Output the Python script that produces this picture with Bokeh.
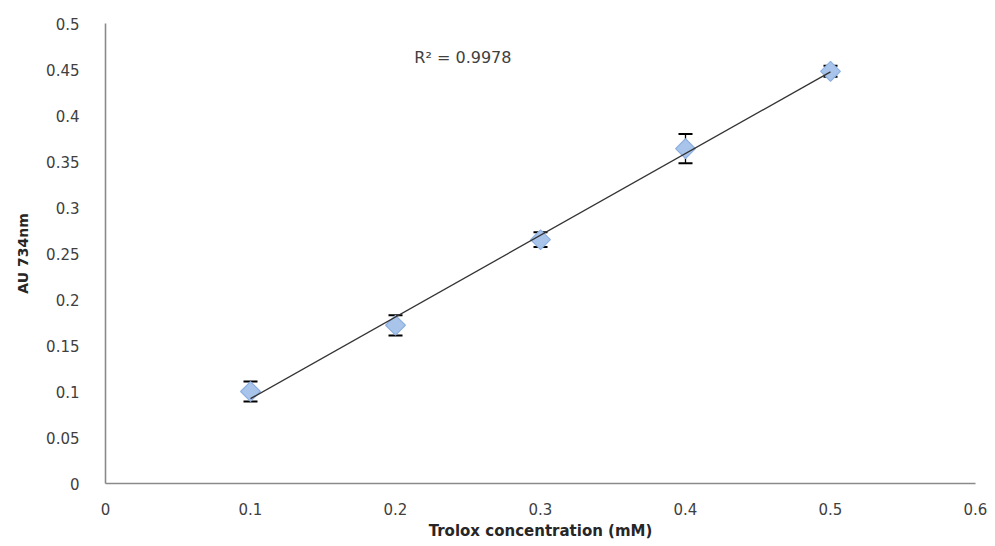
from bokeh.plotting import figure
from bokeh.models import ColumnDataSource, Whisker, FixedTicker, Label, Range1d, TeeHead
from bokeh.embed import file_html
from bokeh.resources import INLINE
import numpy as np

# Data
conc = [0.1, 0.2, 0.3, 0.4, 0.5]
absorb = [0.100, 0.172, 0.265, 0.364, 0.448]
err = [0.011, 0.011, 0.008, 0.016, 0.006]
x_ticks = [0, 0.1, 0.2, 0.3, 0.4, 0.5, 0.6]
x_tick_labels = ["0", "0.1", "0.2", "0.3", "0.4", "0.5", "0.6"]
y_ticks = [0, 0.05, 0.1, 0.15, 0.2, 0.25, 0.3, 0.35, 0.4, 0.45, 0.5]
y_tick_labels = ["0", "0.05", "0.1", "0.15", "0.2", "0.25", "0.3", "0.35", "0.4", "0.45", "0.5"]
r2_text = "R\u00b2 = 0.9978"
x_title = "Trolox concentration (mM)"
y_title = "AU 734nm"

FONT = "DejaVu Sans"
TXT = "#404040"

p = figure(width=990, height=542, output_backend="svg", toolbar_location=None,
           x_range=Range1d(0, 0.6), y_range=Range1d(0, 0.5),
           min_border_left=105, min_border_right=15, min_border_top=23, min_border_bottom=56)
p.outline_line_color = None
p.xgrid.grid_line_color = None
p.ygrid.grid_line_color = None

src = ColumnDataSource(dict(x=conc, y=absorb,
                            lo=[a - e for a, e in zip(absorb, err)],
                            hi=[a + e for a, e in zip(absorb, err)]))

w = Whisker(base="x", upper="hi", lower="lo", source=src, line_color="black", line_width=1.3,
            upper_head=TeeHead(size=14, line_color="black", line_width=2),
            lower_head=TeeHead(size=14, line_color="black", line_width=2))
p.add_layout(w)

p.scatter("x", "y", source=src, marker="square", angle=np.pi / 4, size=14,
          fill_color="#A9C4EB", line_color="#8DB0E0", line_width=1.2)

# linear trendline from the data
slope, intercept = np.polyfit(conc, absorb, 1)
xs = [min(conc), max(conc)]
p.line(xs, [slope * v + intercept for v in xs], line_color="#333333", line_width=1.3)

p.add_layout(Label(x=0.213, y=0.463, text=r2_text, text_font=FONT, text_font_size="16px",
                   text_color=TXT, text_baseline="middle"))

for ax, ticks, labels in ((p.xaxis[0], x_ticks, x_tick_labels), (p.yaxis[0], y_ticks, y_tick_labels)):
    ax.ticker = FixedTicker(ticks=ticks)
    ax.major_label_overrides = {t: l for t, l in zip(ticks, labels)}
    ax.major_tick_line_color = None
    ax.minor_tick_line_color = None
    ax.axis_line_color = "#8A8A8A"
    ax.axis_line_width = 1.6
    ax.major_label_text_font = FONT
    ax.major_label_text_font_size = "15px"
    ax.major_label_text_color = TXT
    ax.axis_label_text_font = FONT
    ax.axis_label_text_font_style = "bold"
    ax.axis_label_text_color = "#262626"

p.xaxis.axis_label = x_title
p.xaxis.axis_label_text_font_size = "15px"
p.xaxis.major_label_standoff = 13
p.xaxis.axis_label_standoff = 4
p.yaxis.axis_label = y_title
p.yaxis.axis_label_text_font_size = "14px"
p.yaxis.major_label_standoff = 20
p.yaxis.axis_label_standoff = 12

open("out.html", "w").write(file_html(p, INLINE))
